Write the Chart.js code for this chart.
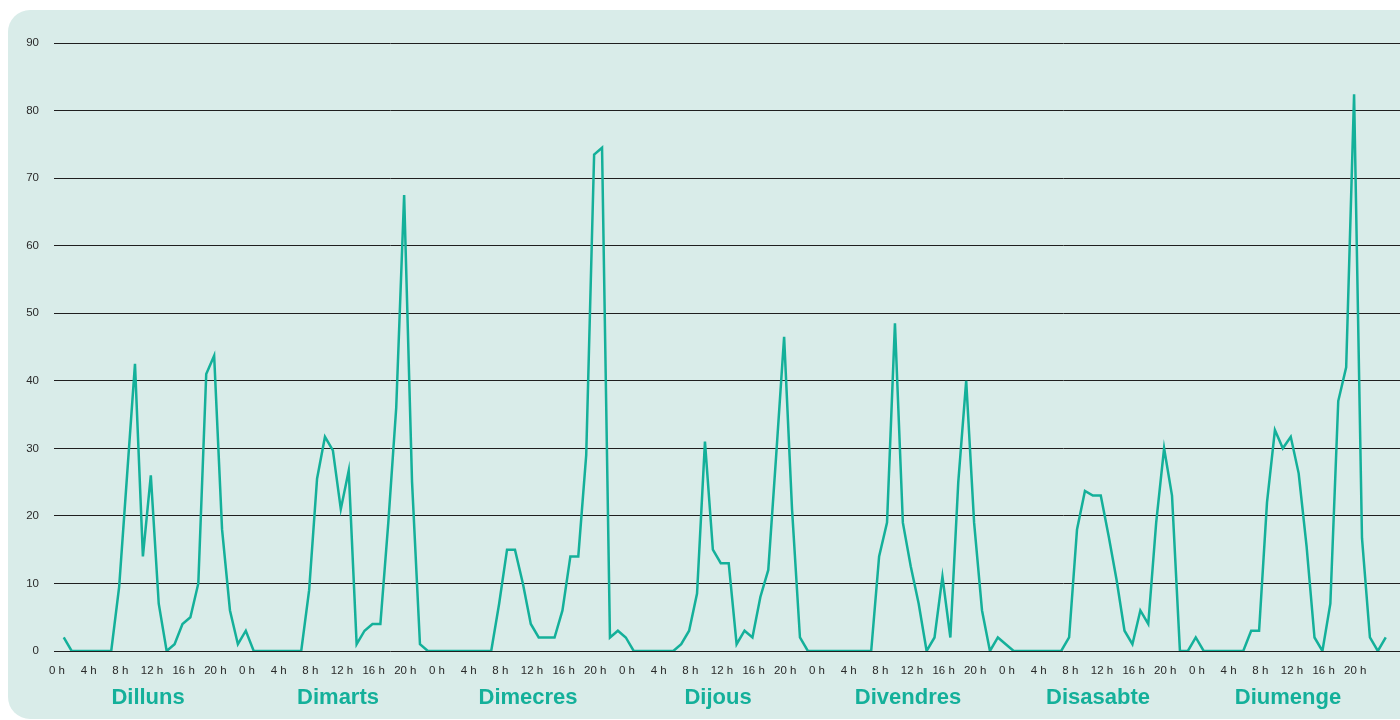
<!DOCTYPE html>
<html>
<head>
<meta charset="utf-8">
<script src="https://cdn.jsdelivr.net/npm/chart.js@4.4.1/dist/chart.umd.min.js"></script>
<style>
    html, body { margin: 0; padding: 0; background: #ffffff; }
    #wrap { position: relative; width: 1400px; height: 720px; overflow: hidden; }
    #panel { position: absolute; left: 8px; top: 10px; width: 1440px; height: 709px; background: #d9ece9; border-radius: 22px; }
    #chartBox { position: absolute; left: 0; top: 0; width: 1400px; height: 720px; }
</style>
</head>
<body>
<div id="wrap">
    <div id="panel"></div>
    <div id="chartBox"><canvas id="trafficChart"></canvas></div>
</div>
<script>
const days = ['Dilluns', 'Dimarts', 'Dimecres', 'Dijous', 'Divendres', 'Disasabte', 'Diumenge'];
const hourTicks = [0, 4, 8, 12, 16, 20];
const yMax = 90;
const yStep = 10;

// one value per hour, 0 h .. 23 h
const dilluns   = [2, 0, 0, 0, 0, 0, 0, 9.5, 26, 42.5, 14, 26, 7, 0, 1, 4, 5, 10, 41, 43.7, 18, 6, 1, 3];
const dimarts   = [0, 0, 0, 0, 0, 0, 0, 9, 25.5, 31.7, 29.7, 21, 26.7, 1, 3, 4, 4, 19, 36, 67.5, 25, 1, 0, 0];
const dimecres  = [0, 0, 0, 0, 0, 0, 0, 7, 15, 15, 10, 4, 2, 2, 2, 6, 14, 14, 29, 73.5, 74.5, 2, 3, 2];
const dijous    = [0, 0, 0, 0, 0, 0, 1, 3, 8.5, 31, 15, 13, 13, 1, 3, 2, 8, 12, 29, 46.5, 21, 2, 0, 0];
const divendres = [0, 0, 0, 0, 0, 0, 0, 14, 19, 48.5, 19, 12.5, 7, 0, 2, 11, 2, 25, 40, 19, 6, 0, 2, 1];
const disasabte = [0, 0, 0, 0, 0, 0, 0, 2, 18, 23.7, 23, 23, 17, 10.5, 3, 1, 6, 4, 19, 30, 23, 0, 0, 2];
const diumenge  = [0, 0, 0, 0, 0, 0, 3, 3, 22, 32.7, 30, 31.7, 26.3, 15.5, 2, 0, 7, 37, 42, 82.4, 16.7, 2, 0, 2];

const week = [dilluns, dimarts, dimecres, dijous, divendres, disasabte, diumenge];
const points = week.flat().map((v, i) => ({ x: i, y: v }));

const lineColor = '#14b09a';
const labelShift = -0.85;

const dayLabels = {
    id: 'dayLabels',
    afterDraw(chart) {
        const { ctx, scales: { x } } = chart;
        ctx.save();
        ctx.font = 'bold 22px "Liberation Sans", Arial, sans-serif';
        ctx.fillStyle = lineColor;
        ctx.textAlign = 'center';
        ctx.textBaseline = 'middle';
        days.forEach((name, k) => {
            ctx.fillText(name, x.getPixelForValue(k * 24 + 11.5 + labelShift), 698);
        });
        ctx.restore();
    }
};

new Chart(document.getElementById('trafficChart'), {
    type: 'line',
    data: {
        datasets: [{
            data: points,
            borderColor: lineColor,
            borderWidth: 2.5,
            pointRadius: 0,
            tension: 0,
            fill: false
        }]
    },
    options: {
        responsive: true,
        maintainAspectRatio: false,
        animation: false,
        layout: { padding: { top: 43, right: 0, left: 0, bottom: 0 } },
        plugins: { legend: { display: false }, tooltip: { enabled: false } },
        scales: {
            x: {
                type: 'linear',
                min: -1.23,
                max: 168.8,
                grid: { display: false },
                border: { display: false },
                afterBuildTicks: (axis) => {
                    axis.ticks = days.flatMap((d, k) => hourTicks.map((h) => ({ value: k * 24 + h + labelShift })));
                },
                afterFit: (axis) => { axis.height = 69; },
                ticks: {
                    autoSkip: false,
                    maxRotation: 0,
                    minRotation: 0,
                    padding: 5,
                    color: '#2a2a2a',
                    font: { family: '"Liberation Sans", Arial, sans-serif', size: 11.5 },
                    callback: (value, index) => `${hourTicks[index % hourTicks.length]} h`
                }
            },
            y: {
                min: 0,
                max: yMax,
                grid: { color: '#1f1f1f', lineWidth: 1, drawTicks: false },
                border: { display: false },
                afterFit: (axis) => { axis.width = 54; },
                ticks: {
                    stepSize: yStep,
                    padding: 15,
                    color: '#2a2a2a',
                    font: { family: '"Liberation Sans", Arial, sans-serif', size: 11.5 }
                }
            }
        }
    },
    plugins: [dayLabels]
});
</script>
</body>
</html>
